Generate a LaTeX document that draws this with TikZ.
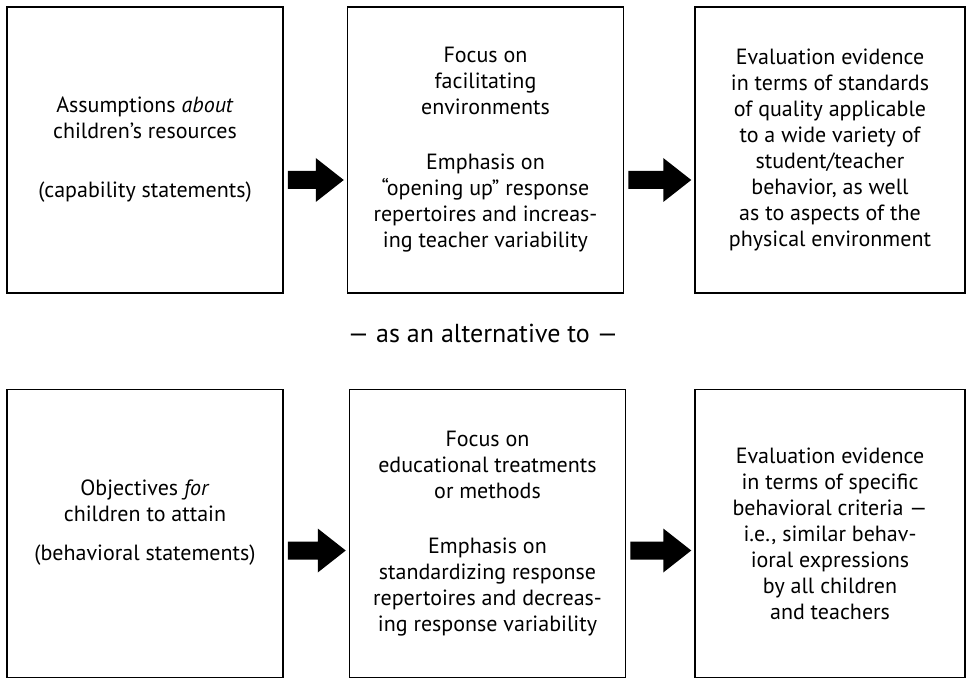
\documentclass[tikz,border=0pt]{standalone}
\usepackage{fontspec}
\setmainfont{PT Sans}
\usetikzlibrary{positioning,calc}

% block arrow between two points
\newcommand{\bigarrow}[2]{%
	\fill ($(#1)+(4,-9)$) -- ($(#2)+(-31,-9)$) -- ($(#2)+(-31,-22)$)
		-- ($(#2)+(-3,0)$) -- ($(#2)+(-31,22)$) -- ($(#2)+(-31,9)$)
		-- ($(#1)+(4,9)$) -- cycle;}

\begin{document}
\begin{tikzpicture}[x=1pt,y=-1pt]
	\tikzset{stage/.style={draw,
				rectangle,
				line width=1.5pt,
				minimum width=276pt,
				minimum height=286pt,
				inner sep=0pt,
				align=center,
				font=\fontsize{22}{26}\selectfont},
			note/.style={font=\fontsize{26}{28}\selectfont}}
	\useasboundingbox (0,0) rectangle (966,679);

	% Upper row
	\node[stage] (assume) at (145,150) {Assumptions \textit{about}\\children's resources\\[33pt](capability statements)};
	\node[stage, right=63pt of assume] (facilitate) {Focus on\\facilitating\\environments\\[29pt]Emphasis on\\``opening up'' response\\repertoires and increas-\\ing teacher variability};
	\node[stage, right=70pt of facilitate, minimum width=270pt] (quality) {Evaluation evidence\\in terms of standards\\of quality applicable\\to a wide variety of\\student/teacher\\behavior, as well\\as to aspects of the\\physical environment};

	% Lower row
	\node[stage, below=95pt of assume, minimum height=288pt] (objectives) {Objectives \textit{for}\\children to attain\\[13pt](behavioral statements)\\\mbox{}};
	\node[stage, right=65pt of objectives, minimum height=288pt] (treatment) {Focus on\\educational treatments\\or methods\\[29pt]Emphasis on\\standardizing response\\repertoires and decreas-\\ing response variability};
	\node[stage, right=68pt of treatment, minimum width=270pt, minimum height=288pt] (criteria) {Evaluation evidence\\in terms of specific\\behavioral criteria ---\\i.e., similar behav-\\ioral expressions\\by all children\\and teachers};

	\node[note] (alt) at (483,333) {--- as an alternative to ---};

	% Arrows
	\bigarrow{[yshift=-30pt]assume.east}{[yshift=-30pt]facilitate.west}
	\bigarrow{[yshift=-30pt]facilitate.east}{[yshift=-30pt]quality.west}
	\bigarrow{[yshift=-17pt]objectives.east}{[yshift=-17pt]treatment.west}
	\bigarrow{[yshift=-17pt]treatment.east}{[yshift=-17pt]criteria.west}
\end{tikzpicture}
\end{document}
